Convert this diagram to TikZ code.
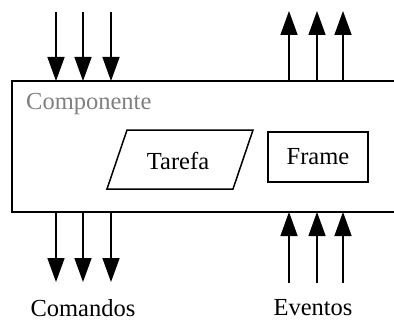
\documentclass[tikz,border=0pt]{standalone}
\usepackage{fontspec}
\setmainfont{Liberation Serif}
\usetikzlibrary{arrows.meta,shapes.geometric}
\definecolor{labelgray}{RGB}{128,128,128}
\tikzset{
  flow/.style={line width=1.5pt, -{Triangle[length=24pt,width=17pt]}},
  edge/.style={line width=1.5pt},
  lbl/.style={font=\fontsize{24.5}{29}\selectfont, inner sep=0pt},
}
\begin{document}
\begin{tikzpicture}[x=1pt,y=-1pt]
  \useasboundingbox (0,0) rectangle (394,329);
  % component body, open on the right
  \draw[edge] (396,81) -- (12,81) -- (12,212) -- (396,212);
  \node[lbl, text=labelgray, anchor=west] (comp) at (26,104) {Componente};

  % task (parallelogram) and frame
  \draw[edge] (127,130) -- (253,130) -- (233,189) -- (107,189) -- cycle;
  \node[lbl] (tarefa) at (178,161) {Tarefa};
  \node[lbl, draw, line width=1.5pt, minimum width=100pt, minimum height=50pt] (frame) at (318,157) {Frame};

  % port coordinates
  \foreach \n/\x in {1/56,2/83,3/111} {
    \coordinate (in\n)  at (\x,12);
    \coordinate (inb\n) at (\x,81);
    \coordinate (cmd\n) at (\x,212);
    \coordinate (cmdb\n) at (\x,282);
  }
  \foreach \n/\x in {1/289,2/317,3/343} {
    \coordinate (out\n)  at (\x,81);
    \coordinate (outb\n) at (\x,11);
    \coordinate (ev\n)  at (\x,283);
    \coordinate (evb\n) at (\x,212);
  }
  \foreach \n in {1,2,3} {
    \draw[flow] (in\n) -- (inb\n);
    \draw[flow] (out\n) -- (outb\n);
    \draw[flow] (cmd\n) -- (cmdb\n);
    \draw[flow] (ev\n) -- (evb\n);
  }

  \node[lbl] (comandos) at (83,308) {Comandos};
  \node[lbl] (eventos) at (313,308) {Eventos};
\end{tikzpicture}
\end{document}
